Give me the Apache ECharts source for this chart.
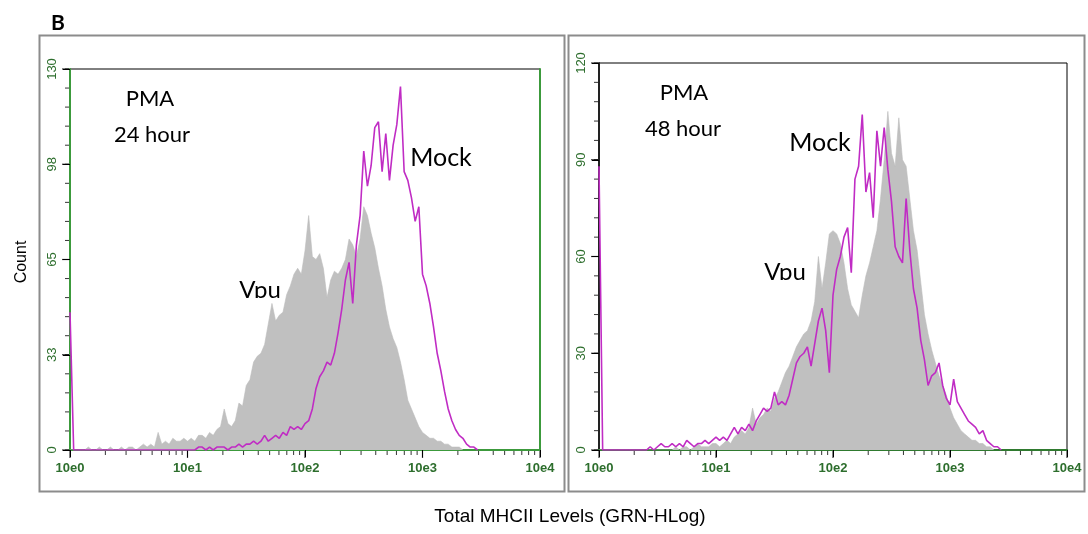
<!DOCTYPE html>
<html><head><meta charset="utf-8">
<script src="https://cdn.jsdelivr.net/npm/echarts@6/dist/echarts.min.js"></script>
<style>
html,body{margin:0;padding:0;background:#fff}
#wrap{position:relative;width:1088px;height:534px}
.layer{position:absolute;left:0;top:0;width:1088px;height:534px}
</style>
</head><body><div id="wrap"><div class="layer" id="p24"></div><div class="layer" id="p48"></div></div>
<script>
// ---- data (channel counts, 32 channels per decade, starting at 10e0) ----
const CHANNELS_PER_DECADE = 32;
const xTickLabels = ['10e0', '10e1', '10e2', '10e3', '10e4'];
const yMax24 = 130;
const yMax48 = 120;
const yInterval24 = 32.5;
const yInterval48 = 30;

const vpu24 = [0,0,0,0,0, 1,0,0,1,0, 0,1,0,0,1, 0,1,1,0,1, 2,1,2,1,6, 2,3,2,4,3, 3,4,3,4,3, 5,
  5,4,6,5,7,8,14,9,8,10,16,15,22,24,30,32,33,36,43,50,44,46,47,53,56,60,62,60,68,80,
  66,65,67,62,52,58,61,60,62,65,72,70,66,72,83,80,74,69,62,56,48,42,38,35,30,24,17,14,
  11,8,6,5,4,4,3,3,2,2,1,1,1,0];
const mock24 = [47, 0,0,0,0,0,0,0,0,0,0, 0,0,0,0,0,0,0,0,0,0, 0,0,0,0,0,0,0,0,0,0, 0,0,0,0,
  1,1,0,1,0,1,1,1,0,1,1,2,1,2,2,3,2,3,5,3,4,5,4,6,5,8,7,8,7,9,10,14,21,25,27,30,29,33,
  40,48,58,64,50,70,80,102,90,97,110,112,95,108,92,104,111,124,95,92,86,78,83,60,56,50,
  42,33,27,20,14,10,7,5,4,2,1,1,0];
const vpu48 = [0,0,0,0,0,0,0,0,0,0, 0,0,0,0,0,0,0,0,0,0, 0,
  1,0,1,1,0,1,2,1, 1,1,2,2,1,2,3,2,4,5,6,5,7,13,8,10,11,13,12,16,18,21,24,26,29,32,34,
  36,37,40,46,60,50,58,67,68,67,64,58,50,45,43,41,48,54,58,63,68,78,90,105,92,88,103,
  90,88,78,68,62,52,42,36,31,27,23,20,17,13,10,8,6,5,4,3,3,2,2,1,1,0];
const mock48 = [88, 0,0,0,0,0,0,0,0,0,0,0,0,0,
  1,0,1,2,1,1,2,1,2,1,3,2,1,2,2,3,2,3,4,3,4,3,5,7,5,7,6,8,6,9,11,13,12,13,18,14,15,14,
  17,22,27,29,30,32,26,33,40,44,37,24,48,56,60,66,69,55,84,88,104,80,86,72,99,88,100,
  87,77,63,60,58,78,62,50,44,34,28,20,23,24,27,20,16,14,22,15,13,11,9,8,7,5,6,3,2,1,1,0];

// ---- helpers ----
const toPairs = counts => counts.map((c, i) => [Math.pow(10, i / CHANNELS_PER_DECADE), c]);
const GREEN = '#3c9a3c';
const LABEL_GREEN = '#2d6e2d';
const NARROW = "'Liberation Sans Narrow','Arial Narrow','Liberation Sans',Arial,sans-serif";

// tick positions derived from the axis definitions (decades and count intervals)
const xMajorTicks = xTickLabels.map((_, d) => Math.pow(10, d));
const xMinorTicks = [];
for (let d = 0; d < xTickLabels.length - 1; d++) for (let k = 2; k <= 9; k++) xMinorTicks.push(k * Math.pow(10, d));
function yTicks(max, step) { const t = []; for (let v = 0; v <= max + 1e-9; v += step) t.push(v); return t; }

function logX() {
  return {
    type: 'log', logBase: 10, min: 1, max: 10000, gridIndex: 0,
    axisLine: { show: true, onZero: false, lineStyle: { color: GREEN, width: 2 } },
    axisTick: { show: true, length: 7, lineStyle: { color: '#000', width: 1 } },
    axisLabel: {
      margin: 12, color: LABEL_GREEN, fontFamily: NARROW, fontWeight: 'bold', fontSize: 13,
      formatter: v => xTickLabels[Math.round(Math.log10(v))] || ''
    },
    splitLine: { show: false }
  };
}
function countY(max, interval, lineColor) {
  return {
    type: 'value', min: 0, max: max, interval: interval, gridIndex: 0,
    axisLine: { show: true, lineStyle: { color: lineColor, width: 2 } },
    axisTick: { show: true, length: 7, lineStyle: { color: '#000', width: 1 } },
    axisLabel: {
      rotate: 90, margin: 11, color: LABEL_GREEN, fontFamily: NARROW, fontSize: 13,
      formatter: v => String(Math.round(v))
    },
    splitLine: { show: false }
  };
}
function plainAxis(position, max, color) {
  return {
    type: 'value', min: 0, max: max, gridIndex: 0, position: position,
    axisLine: { show: true, lineStyle: { color: color, width: 2 } },
    axisTick: { show: false }, axisLabel: { show: false }, splitLine: { show: false }
  };
}
function tickSeries(points, size, offset) {
  return {
    type: 'scatter', xAxisIndex: 0, yAxisIndex: 0, data: points, symbol: 'rect',
    symbolSize: size, symbolOffset: offset, itemStyle: { color: '#000' },
    clip: false, silent: true, z: 6, animation: false
  };
}
function tickLayers(max, interval) {
  return [
    tickSeries(xMajorTicks.map(x => [x, 0]), [1.2, 7], [0, 4.5]),
    tickSeries(xMinorTicks.map(x => [x, 0]), [1, 4], [0, 3]),
    tickSeries(yTicks(max, interval).map(v => [1, v]), [7, 1.2], [-4.5, 0]),
    tickSeries(yTicks(max, interval / 5).map(v => [1, v]), [4, 1], [-3, 0])
  ];
}
function fillSeries(counts) {
  return {
    type: 'line', xAxisIndex: 0, yAxisIndex: 0, data: toPairs(counts),
    showSymbol: false, symbol: 'none', lineStyle: { width: 0.6, color: '#bcbcbc' },
    areaStyle: { color: '#c0c0c0', opacity: 1 }, z: 2, animation: false
  };
}
function lineSeries(counts) {
  return {
    type: 'line', xAxisIndex: 0, yAxisIndex: 0, data: toPairs(counts),
    showSymbol: false, symbol: 'none', lineStyle: { width: 1.6, color: '#c02cc4' },
    z: 3, animation: false
  };
}
function txt(x, y, s, size, weight, family, z) {
  return { type: 'text', x: x, y: y, z: z || 100, style: {
    text: s, fontSize: size, fontWeight: weight || 'normal', fontFamily: family || 'Lato',
    fill: '#000', align: 'center', verticalAlign: 'middle' } };
}
// white strip under the series that hides the bottom of the "Vpu" label, as in the reference
function cutBelow(x, y, w, h) {
  return { type: 'rect', z: 1.5, shape: { x: x, y: y, width: w, height: h },
    style: { fill: '#fff', stroke: null } };
}

// ---- left panel (PMA 24 hour) + shared page text ----
echarts.init(document.getElementById('p24')).setOption({
  animation: false,
  backgroundColor: '#fff',
  grid: [{ left: 70, top: 69, width: 470, height: 381, show: true, borderColor: '#000', borderWidth: 1 }],
  xAxis: [logX()],
  yAxis: [countY(yMax24, yInterval24, GREEN), plainAxis('right', yMax24, GREEN)],
  series: [fillSeries(vpu24), lineSeries(mock24)].concat(tickLayers(yMax24, yInterval24)),
  graphic: [
    { type: 'rect', z: 1, shape: { x: 39.5, y: 35.5, width: 525, height: 456 },
      style: { fill: null, stroke: '#8c8c8c', lineWidth: 2 } },
    { type: 'rect', z: 1, shape: { x: 568.5, y: 35.5, width: 516, height: 456 },
      style: { fill: null, stroke: '#8c8c8c', lineWidth: 2 } },
    txt(58, 23, 'B', 21, 'bold', 'Lato'),
    txt(150, 99, 'PMA', 22),
    txt(152, 135, '24 hour', 22),
    txt(441, 158, 'Mock', 25),
    txt(260, 290, 'Vpu', 24, 'normal', 'Lato', 1),
    cutBelow(232, 298, 58, 10),
    { type: 'text', x: 22, y: 262, rotation: Math.PI / 2, z: 100, style: {
      text: 'Count', fontSize: 16, fontFamily: "'Liberation Sans',Arial,sans-serif",
      fill: '#000', align: 'center', verticalAlign: 'middle' } },
    txt(570, 517, 'Total MHCII Levels (GRN-HLog)', 19, 'normal', "'Liberation Sans',Arial,sans-serif")
  ]
});

// ---- right panel (PMA 48 hour) ----
echarts.init(document.getElementById('p48')).setOption({
  animation: false,
  backgroundColor: 'transparent',
  grid: [{ left: 599, top: 63, width: 468, height: 387, show: true, borderColor: '#000', borderWidth: 1 }],
  xAxis: [logX(), plainAxis('top', 1, '#2f7a2f')],
  yAxis: [countY(yMax48, yInterval48, '#222')],
  series: [fillSeries(vpu48), lineSeries(mock48)].concat(tickLayers(yMax48, yInterval48)),
  graphic: [
    txt(684, 93, 'PMA', 22),
    txt(683, 129, '48 hour', 22),
    txt(820, 143, 'Mock', 25),
    txt(785, 272, 'Vpu', 24, 'normal', 'Lato', 1),
    cutBelow(757, 280, 56, 10)
  ]
});
</script>
</body></html>
